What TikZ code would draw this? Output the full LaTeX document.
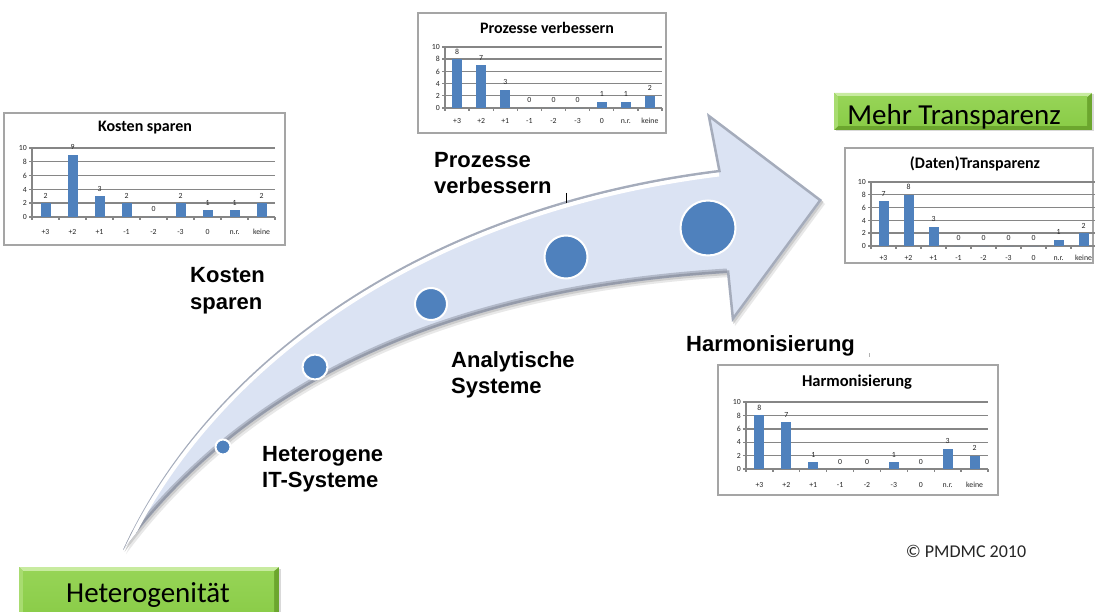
\documentclass[tikz,border=0pt]{standalone}
\usepackage{fontspec}
\setmainfont{Liberation Sans}
\newfontfamily\carlito{Carlito}

\definecolor{barblue}{RGB}{79,129,189}
\definecolor{gridgray}{RGB}{134,134,134}
\definecolor{framegray}{RGB}{165,165,165}
\definecolor{arrowfill}{RGB}{219,227,243}
\definecolor{arrowrim}{RGB}{130,136,150}
\definecolor{greenface}{RGB}{150,212,86}
\definecolor{greenfacelow}{RGB}{138,204,72}
\definecolor{greenlight}{RGB}{200,235,160}
\definecolor{greenmid}{RGB}{168,220,112}
\definecolor{greendark}{RGB}{108,166,46}

\tikzset{
  gridln/.style={draw=gridgray, line width=1.4pt},
  chartframe/.style={draw=framegray, line width=1.5pt, fill=white},
  ticklab/.style={font=\carlito\fontsize{7.8}{8}\selectfont, inner sep=0pt, text=black!85},
  charttitle/.style={font=\carlito\bfseries\fontsize{16}{18}\selectfont, inner sep=0pt},
  steplabel/.style={font=\bfseries\fontsize{22}{26}\selectfont, anchor=base west, inner sep=0pt},
  boxlabel/.style={font=\carlito\fontsize{29}{32}\selectfont, anchor=base, inner sep=0pt},
  stagedot/.style={circle, fill=barblue, draw=white, line width=2pt, inner sep=0pt},
}

% bar chart: #1 axis left, #2 axis right, #3 y of 0, #4 y of 10, #5 values, #6 baseline of category row
\newcommand\barset[6]{%
  \pgfmathsetmacro\cw{(#2-#1)/9}%
  \pgfmathsetmacro\uh{(#3-#4)/10}%
  \foreach \g in {2,4,6,8,10}{\draw[gridln] (#1,{#3-\g*\uh}) -- (#2,{#3-\g*\uh});}
  \draw[gridln] (#1,#3) -- (#2,#3);
  \draw[gridln] (#1,#4) -- (#1,#3);
  \foreach \g in {0,2,...,10}{%
    \draw[gridln] (#1-3,{#3-\g*\uh}) -- (#1,{#3-\g*\uh});
    \node[ticklab, anchor=base east] at (#1-5,{#3-\g*\uh+2.7}) {\g};}
  \foreach \i in {0,...,9}{\draw[gridln] ({#1+\i*\cw},#3) -- ({#1+\i*\cw},#3+3);}
  \foreach \v [count=\i from 0] in {#5}{%
    \fill[barblue] ({#1+(\i+0.5)*\cw-5},#3) rectangle ({#1+(\i+0.5)*\cw+5},{#3-\v*\uh});
    \node[ticklab, anchor=base] at ({#1+(\i+0.5)*\cw},{#3-\v*\uh-5}) {\v};}
  \foreach \c [count=\i from 0] in {+3,+2,+1,-1,-2,-3,0,n.r.,keine}{%
    \node[ticklab, anchor=base] at ({#1+(\i+0.5)*\cw},#6) {\c};}
}

% bevelled green box: #1 left, #2 top, #3 right, #4 bottom
\newcommand\greenbevel[4]{%
  \fill[gray!30] (#1+1.5,#2+1.5) rectangle (#3+1.5,#4+1.5);
  \fill[greendark] (#1,#2) rectangle (#3,#4);
  \fill[greenlight] (#1,#2) -- (#3,#2) -- (#3-5,#2+4) -- (#1+4,#2+4) -- cycle;
  \fill[greenmid] (#1,#2) -- (#1+4,#2+4) -- (#1+4,#4-4) -- (#1,#4) -- cycle;
  \shade[top color=greenface, bottom color=greenfacelow] (#1+4,#2+4) rectangle (#3-5,#4-4);
}

\def\arrowoutline{(123,550) .. controls (200,380) and (400,210) .. (718,170) -- (707,113) -- (822,200) -- (732,322) -- (727,273) .. controls (450,290) and (250,380) .. (123,550) -- cycle}

\begin{document}
\begin{tikzpicture}[x=1pt, y=-1pt]
\useasboundingbox (0,0) rectangle (1095,612);
\fill[white] (0,0) rectangle (1095,612);

% ---- chart: Kosten sparen
\draw[chartframe] (4,113) rectangle (285,245);
\node[charttitle] (tkosten) at (145,128) {Kosten sparen};
\barset{32}{275}{217}{148}{2,9,3,2,0,2,1,1,2}{235}

% ---- chart: Prozesse verbessern
\draw[chartframe] (418,13) rectangle (666,133);
\node[charttitle] (tprozesse) at (547,28) {Prozesse verbessern};
\barset{445}{662}{108}{47}{8,7,3,0,0,0,1,1,2}{123.5}

% ---- chart: (Daten)Transparenz
\draw[chartframe] (845,148) rectangle (1093,263);
\node[charttitle] (ttransparenz) at (975,164) {(Daten)Transparenz};
\barset{871}{1096}{246}{182}{7,8,3,0,0,0,0,1,2}{260.5}

% ---- chart: Harmonisierung
\draw[chartframe] (718,365) rectangle (998,495);
\node[charttitle, font=\carlito\bfseries\fontsize{16.5}{18}\selectfont] (tharmon) at (857,382) {Harmonisierung};
\barset{746}{988}{469}{402}{8,7,1,0,0,1,0,3,2}{487.5}

% ---- the curved arrow
\begin{scope}[shift={(3,4)}] \fill[gray!18] \arrowoutline; \end{scope}
\begin{scope}[shift={(1.5,2)}] \fill[gray!40] \arrowoutline; \end{scope}
\fill[arrowfill] \arrowoutline;
\begin{scope}
  \clip \arrowoutline;
  \draw[arrowrim, line width=5pt, opacity=0.6] \arrowoutline;
  \draw[arrowrim, line width=9pt, opacity=0.45] (727,273) .. controls (450,290) and (250,380) .. (123,550);
  \draw[white, line width=4pt] (124,554) .. controls (201,384) and (401,214) .. (719,174.5);
\end{scope}

% ---- stage markers along the arrow
\node[stagedot, minimum size=15pt] (s1) at (223,447) {};
\node[stagedot, minimum size=25pt] (s2) at (315,367) {};
\node[stagedot, minimum size=32pt] (s3) at (431,304) {};
\node[stagedot, minimum size=43pt] (s4) at (566,257) {};
\node[stagedot, minimum size=55pt] (s5) at (708,228) {};

% ---- stage labels
\node[steplabel] (kosten1) at (190,283) {Kosten};
\node[steplabel] (kosten2) at (190,309) {sparen};
\node[steplabel] (prozesse1) at (434,168) {Prozesse};
\node[steplabel] (prozesse2) at (434,194) {verbessern};
\node[steplabel] (analyt1) at (451,367) {Analytische};
\node[steplabel] (analyt2) at (451,393) {Systeme};
\node[steplabel] (hetero1) at (262,461) {Heterogene};
\node[steplabel] (hetero2) at (262,487) {IT-Systeme};
\node[steplabel] (harmon) at (686,352) {Harmonisierung};

% small marks
\draw[black, line width=0.9pt] (566,193) -- (566,203);
\draw[gray!60, line width=0.8pt] (869,353) -- (869,357);

% ---- green boxes
\greenbevel{19}{567}{279}{620}
\node[boxlabel] (heterogenitaet) at (148,602) {Heterogenität};
\greenbevel{834}{93}{1092}{130}
\node[boxlabel] (transparenz) at (954,125) {Mehr Transparenz};

% ---- copyright
\node[font=\carlito\fontsize{18}{20}\selectfont, inner sep=0pt, text=black!85] (copyright) at (966,551) {© PMDMC 2010};
\end{tikzpicture}
\end{document}
